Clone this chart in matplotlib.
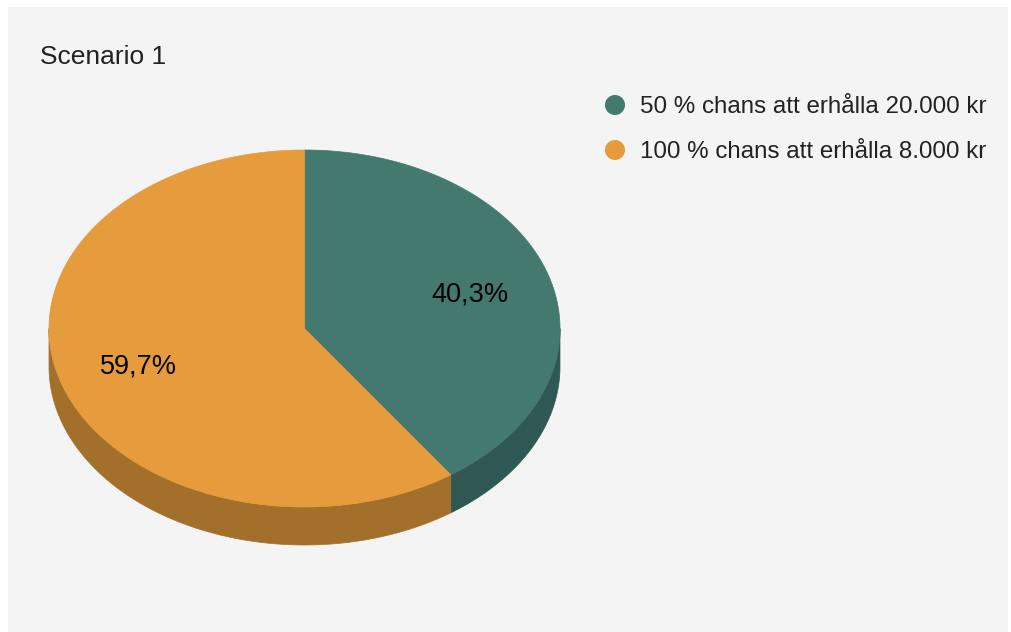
import numpy as np
import matplotlib
matplotlib.use("Agg")
import matplotlib.pyplot as plt
from matplotlib.patches import Polygon, Rectangle, Circle

title = "Scenario 1"
labels = ["50 % chans att erhålla 20.000 kr", "100 % chans att erhålla 8.000 kr"]
values = [40.3, 59.7]
top_colors = ["#43796f", "#e69b3c"]
side_colors = ["#2f5753", "#a3702b"]

plt.rcParams["font.family"] = ["Liberation Sans", "DejaVu Sans"]

W, H = 1011, 632
fig = plt.figure(figsize=(W / 100, H / 100), dpi=100)
fig.patch.set_facecolor("white")
ax = fig.add_axes([0, 0, 1, 1])
ax.set_xlim(0, W)
ax.set_ylim(H, 0)
ax.axis("off")

# chart background panel
ax.add_patch(Rectangle((8, 7), 1000, 625, facecolor="#f4f4f4", edgecolor="none", zorder=0))

# pie geometry (pixel space)
cx, cy, rx, ry, depth = 304.5, 328.5, 255.5, 178.5, 38


def ellipse_pt(theta_deg, dy=0.0):
    t = np.radians(theta_deg)
    return cx + rx * np.sin(t), cy - ry * np.cos(t) + dy


fracs = np.array(values) / sum(values)
bounds = np.concatenate([[0], np.cumsum(fracs) * 360])

# side walls (only the front half, 90..270 degrees clockwise from top)
for i in range(len(values)):
    a1, a2 = max(bounds[i], 90), min(bounds[i + 1], 270)
    if a2 <= a1:
        continue
    th = np.linspace(a1, a2, 200)
    x, y = ellipse_pt(th)
    xb, yb = ellipse_pt(th[::-1], depth)
    pts = np.column_stack([np.concatenate([x, xb]), np.concatenate([y, yb])])
    ax.add_patch(Polygon(pts, closed=True, facecolor=side_colors[i], edgecolor=side_colors[i],
                         linewidth=0.5, zorder=2))

# top faces
for i in range(len(values)):
    th = np.linspace(bounds[i], bounds[i + 1], 400)
    x, y = ellipse_pt(th)
    pts = np.column_stack([np.concatenate([[cx], x]), np.concatenate([[cy], y])])
    ax.add_patch(Polygon(pts, closed=True, facecolor=top_colors[i], edgecolor=top_colors[i],
                         linewidth=0.5, zorder=3))

# percentage labels
for i in range(len(values)):
    mid = (bounds[i] + bounds[i + 1]) / 2
    t = np.radians(mid)
    lx = cx + 0.68 * rx * np.sin(t)
    ly = cy - 0.68 * ry * np.cos(t) + 2
    txt = f"{values[i]:.1f}%".replace(".", ",")
    ax.text(lx, ly, txt, fontsize=19.5, color="black", ha="center", va="center", zorder=4)

# title
ax.text(40, 57, title, fontsize=19, color="#222222", ha="left", va="center")

# legend
for i, lab in enumerate(labels):
    yy = 105 + 45 * i
    ax.add_patch(Circle((615, yy), 10, facecolor=top_colors[i], edgecolor="none", zorder=3))
    ax.text(640, yy + 2, lab, fontsize=17.4, color="#222222", ha="left", va="center")

fig.savefig("out.png", dpi=100, facecolor=fig.get_facecolor())
